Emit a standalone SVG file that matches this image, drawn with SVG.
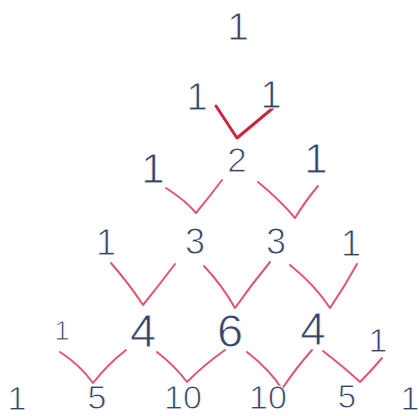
<svg xmlns="http://www.w3.org/2000/svg" width="419" height="416" viewBox="0 0 419 416">
<style>
.n{font-family:"Liberation Sans",Arial,sans-serif;fill:#33466a;text-anchor:middle;stroke:#ffffff;stroke-width:0.9}
.c{fill:none;stroke:#e0566e;stroke-width:2;stroke-linecap:round;stroke-linejoin:round}
.t{fill:none;stroke:#c8283e;stroke-width:3;stroke-linecap:round;stroke-linejoin:round}
</style>
<rect width="419" height="416" fill="#ffffff"/>
<g id="connectors">
<path class="t" d="M216,106 L237,138 L273,108"/>
<path class="c" d="M166,188 Q185,200 196,213 Q210,196 222,180"/>
<path class="c" d="M258,182 Q280,200 295,218 Q306,200 318,186"/>
<path class="c" d="M111,263 Q130,285 143,305 Q160,284 175,264"/>
<path class="c" d="M204,266 Q222,285 235,308 Q252,284 270,262"/>
<path class="c" d="M290,265 Q315,285 330,308 Q345,286 357,264"/>
<path class="c" d="M60,352 Q80,365 93,383 Q108,364 126,350"/>
<path class="c" d="M157,352 Q175,366 187,382 Q205,364 225,350"/>
<path class="c" d="M247,352 Q270,370 282,389 Q296,368 312,350"/>
<path class="c" d="M323,351 Q345,368 360,382 Q372,370 382,358"/>
</g>
<g id="r0c0"><text class="n" x="238" y="40" font-size="39">1</text></g>
<g id="r1c0"><text class="n" x="197" y="110" font-size="38">1</text></g>
<g id="r1c1"><text class="n" x="271" y="108" font-size="38">1</text></g>
<g id="r2c0"><text class="n" x="153" y="183" font-size="42">1</text></g>
<g id="r2c1"><text class="n" x="237" y="172" font-size="35">2</text></g>
<g id="r2c2"><text class="n" x="316" y="173" font-size="42">1</text></g>
<g id="r3c0"><text class="n" x="106" y="255" font-size="36">1</text></g>
<g id="r3c1"><text class="n" x="195" y="254" font-size="36">3</text></g>
<g id="r3c2"><text class="n" x="276" y="254" font-size="36">3</text></g>
<g id="r3c3"><text class="n" x="351" y="256" font-size="36">1</text></g>
<g id="r4c0"><text class="n" x="62" y="340" font-size="28">1</text></g>
<g id="r4c1"><text class="n" x="143" y="347" font-size="47">4</text></g>
<g id="r4c2"><text class="n" x="230" y="347" font-size="47">6</text></g>
<g id="r4c3"><text class="n" x="313" y="345" font-size="46">4</text></g>
<g id="r4c4"><text class="n" x="378" y="352" font-size="34">1</text></g>
<g id="r5c0"><text class="n" x="17" y="410" font-size="34">1</text></g>
<g id="r5c1"><text class="n" x="97" y="409" font-size="34">5</text></g>
<g id="r5c2"><text class="n" x="183" y="409" font-size="34">10</text></g>
<g id="r5c3"><text class="n" x="268" y="409" font-size="34">10</text></g>
<g id="r5c4"><text class="n" x="347" y="408" font-size="33">5</text></g>
<g id="r5c5"><text class="n" x="410" y="410" font-size="34">1</text></g>
</svg>
